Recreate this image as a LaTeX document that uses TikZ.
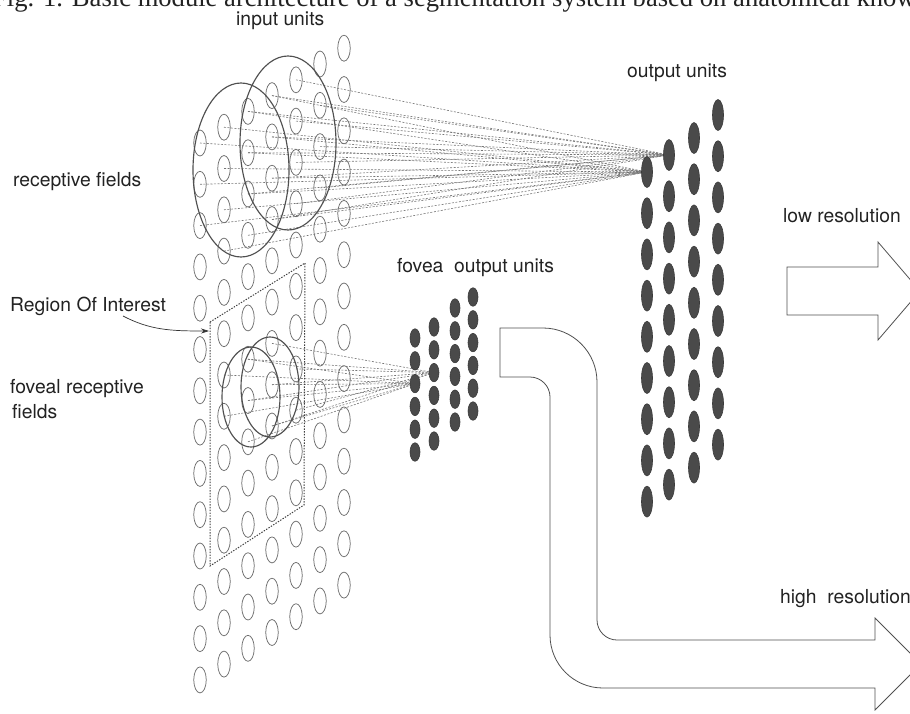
\documentclass[tikz,border=0pt]{standalone}
\usepackage{fontspec}
\setmainfont{TeX Gyre Heros}
\newfontfamily\capfont{Liberation Serif}
\usetikzlibrary{shapes.geometric,backgrounds,arrows.meta}
\definecolor{ingray}{HTML}{6E6E6E}
\definecolor{linegray}{HTML}{757575}
\definecolor{fieldgray}{HTML}{505050}
\definecolor{unitfill}{HTML}{4A4A4A}
\definecolor{txt}{HTML}{222222}
\tikzset{
  inunit/.style={ellipse, draw=ingray, line width=0.75pt, minimum width=12.5pt, minimum height=26pt, inner sep=0pt},
  outunit/.style={ellipse, draw=unitfill!80!black, fill=unitfill, line width=0.6pt, minimum width=11pt, minimum height=31pt, inner sep=0pt},
  fovunit/.style={ellipse, draw=unitfill!80!black, fill=unitfill, line width=0.6pt, minimum width=10pt, minimum height=18.5pt, inner sep=0pt},
  field/.style={ellipse, draw=fieldgray, line width=1.15pt, inner sep=0pt},
  conn/.style={draw=linegray, line width=0.6pt, dash pattern=on 2pt off 1.5pt},
  roibox/.style={draw=black!75, line width=1pt, dash pattern=on 1.4pt off 1.4pt},
  bigarrow/.style={draw=fieldgray, line width=0.8pt, line join=miter},
  lbl/.style={text=txt, inner sep=0pt, font=\fontsize{19.3}{23}\selectfont},
}
\begin{document}
\begin{tikzpicture}[x=1pt,y=-1pt]
\useasboundingbox (0,0) rectangle (910,713);
\clip (0,0) rectangle (910,713);

% caption (cut at top)
\node[anchor=base west, inner sep=0pt, text=txt, font=\capfont\fontsize{26.6}{30}\selectfont] (cap) at (-8,6) {Fig. 1. Basic module architecture of a segmentation system based on anatomical know};

% input units
\foreach \i in {0,...,6}{
  \foreach \j in {0,...,13}{
    \pgfmathsetmacro\xx{200+24*\i}
    \pgfmathsetmacro\yy{143-15.8*\i+41.3*\j}
    \node[inunit] (in-\i-\j) at (\xx,\yy) {};
  }
}

% output units
\foreach \c/\xx/\yt in {0/647/172,1/669/155,2/694/138,3/718/115}{
  \foreach \r in {0,...,8}{
    \pgfmathsetmacro\yy{\yt+41.2*\r}
    \node[outunit] (out-\c-\r) at (\xx,\yy) {};
  }
}

% fovea output units
\foreach \c/\xx/\yt in {0/415/338,1/434/327,2/455/308,3/473/297}{
  \foreach \r in {0,...,5}{
    \pgfmathsetmacro\yy{\yt+22.8*\r}
    \node[fovunit] (fov-\c-\r) at (\xx,\yy) {};
  }
}

% receptive fields
\node[field, minimum width=96pt, minimum height=174pt] (rf1) at (241,170) {};
\node[field, minimum width=96pt, minimum height=174pt] (rf2) at (288,143) {};
% foveal receptive fields
\node[field, minimum width=58pt, minimum height=100pt] (ff1) at (251,397) {};
\node[field, minimum width=58pt, minimum height=100pt] (ff2) at (270,387) {};

% connections
\begin{pgfonlayer}{background}
\foreach \i in {0,...,6}{
  \foreach \j in {0,...,13}{
    \pgfmathsetmacro\xx{200+24*\i}
    \pgfmathsetmacro\yy{143-15.8*\i+41.3*\j}
    \pgfmathsetmacro\ax{(\xx-241)/48}\pgfmathsetmacro\ay{(\yy-170)/87}
    \pgfmathtruncatemacro\ina{\ax*\ax+\ay*\ay<1.15 ? 1 : 0}
    \pgfmathsetmacro\bx{(\xx-288)/48}\pgfmathsetmacro\by{(\yy-143)/87}
    \pgfmathtruncatemacro\inb{\bx*\bx+\by*\by<1.15 ? 1 : 0}
    \pgfmathsetmacro\cx{(\xx-251)/29}\pgfmathsetmacro\cy{(\yy-397)/50}
    \pgfmathtruncatemacro\inc{\cx*\cx+\cy*\cy<1.12 ? 1 : 0}
    \pgfmathsetmacro\dx{(\xx-270)/29}\pgfmathsetmacro\dy{(\yy-387)/50}
    \pgfmathtruncatemacro\ind{\dx*\dx+\dy*\dy<1.12 ? 1 : 0}
    \ifnum\ina=1 \draw[conn] (in-\i-\j.center) -- (out-0-0.center);\fi
    \ifnum\inb=1 \draw[conn] (in-\i-\j.center) -- (out-1-0.center);\fi
    \ifnum\inc=1 \draw[conn] (in-\i-\j.center) -- (fov-0-2.center);\fi
    \ifnum\ind=1 \draw[conn] (in-\i-\j.center) -- (fov-1-2.center);\fi
  }
}
\end{pgfonlayer}

% region of interest
\coordinate (roiA) at (210,322);
\coordinate (roiB) at (305,263);
\coordinate (roiC) at (304,505);
\coordinate (roiD) at (210,566);
\draw[roibox] (roiA) -- (roiB) -- (roiC) -- (roiD) -- cycle;

% labels
\node[lbl, anchor=base west] (lin) at (236,25) {input units};
\node[lbl, anchor=base west] (lout) at (627,77) {output units};
\node[lbl, anchor=base west] (lrf) at (13,186) {receptive fields};
\node[lbl, anchor=base west] (lroi) at (10,311) {Region Of Interest};
\node[lbl, anchor=base west] (lfrf) at (10,393) {foveal receptive};
\node[lbl, anchor=base west] (lfrf2) at (12,418) {fields};
\node[lbl, anchor=base west] (lfov) at (397,272) {fovea\ \ output units};
\node[lbl, anchor=base west] (llow) at (783,222) {low resolution};
\node[lbl, anchor=base west] (lhigh) at (780,603) {high\ \ resolution};

% ROI arrow
\coordinate (roiS) at (123,316);
\coordinate (roiT) at (209,331);
\draw[draw=black!80, line width=0.7pt, -{Stealth[length=8pt,width=5pt]}] (roiS) .. controls (150,330) and (170,331) .. (roiT);

% low resolution arrow
\draw[bigarrow] (787,267) -- (878,267) -- (878,242) -- (920,291) -- (878,340) -- (878,315) -- (787,315) -- cycle;

% high resolution arrow
\draw[bigarrow] (500,328) -- (543,328)
  .. controls (572.8,328) and (597,352.2) .. (597,382)
  -- (597,620) .. controls (597,631) and (606,640) .. (617,640)
  -- (875,640) -- (875,618) -- (921,664) -- (875,710) -- (875,688)
  -- (603,688) .. controls (573.7,688) and (550,664.3) .. (550,635)
  -- (550,397) .. controls (550,386) and (541,377) .. (530,377)
  -- (500,377) -- cycle;
\end{tikzpicture}
\end{document}
